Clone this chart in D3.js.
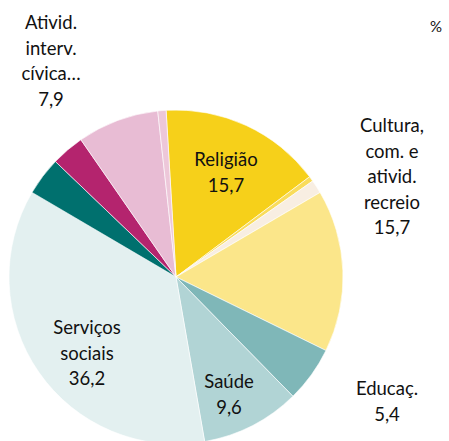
<!DOCTYPE html>
<html>
<head>
<meta charset="utf-8">
<script src="https://cdn.jsdelivr.net/npm/d3@7"></script>
<style>
  html, body { margin: 0; padding: 0; background: #fff; }
  svg text { font-family: Lato, "Noto Sans", sans-serif; font-size: 18.5px; fill: #111; }
</style>
</head>
<body>
<div id="chart"></div>
<script>
// Slices, clockwise from just left of 12 o'clock
var categories = ["Religião", "Outras a", "Outras b", "Cultura, com. e ativid. recreio", "Educaç.", "Saúde", "Serviços sociais", "Outras c", "Outras d", "Ativid. interv. cívica…", "Outras e"];
var values = [15.7, 0.5, 1.3, 15.7, 5.4, 9.6, 36.2, 3.7, 3.2, 7.9, 0.8];
var colors = ["#f6d01a", "#f9dc5c", "#f8eee2", "#fbe68a", "#7fb7b8", "#b1d4d5", "#e3f0f0", "#00706e", "#b4246e", "#e8bcd4", "#edc7d9"];

// Labels (lines of text) for the slices that carry one
var labelLines = {
  "Religião": ["Religião", "15,7"],
  "Cultura, com. e ativid. recreio": ["Cultura,", "com. e", "ativid.", "recreio", "15,7"],
  "Educaç.": ["Educaç.", "5,4"],
  "Saúde": ["Saúde", "9,6"],
  "Serviços sociais": ["Serviços", "sociais", "36,2"],
  "Ativid. interv. cívica…": ["Ativid.", "interv.", "cívica…", "7,9"]
};
var unitLabel = "%";

var width = 449, height = 441;
var cx = 176, cy = 277, radius = 167;
var lineH = 25.5;

// label anchor (centre x, first baseline y)
var labelPlace = {
  "Religião": [226, 166],
  "Cultura, com. e ativid. recreio": [392, 132],
  "Educaç.": [387, 395],
  "Saúde": [229, 388],
  "Serviços sociais": [87, 334],
  "Ativid. interv. cívica…": [51, 29]
};

var svg = d3.select("#chart").append("svg")
  .attr("width", width)
  .attr("height", height);

var startA = -3.4 * Math.PI / 180;
var pie = d3.pie().sort(null).value(function(d) { return d; })
  .startAngle(startA).endAngle(startA + 2 * Math.PI);
var arc = d3.arc().innerRadius(0).outerRadius(radius);

var g = svg.append("g").attr("transform", "translate(" + cx + "," + cy + ")");

g.selectAll("path")
  .data(pie(values))
  .enter()
  .append("path")
  .attr("d", arc)
  .style("fill", function(d, i) { return colors[i]; })
  .style("stroke", "#fff")
  .style("stroke-width", 0.6);

// Labels
categories.forEach(function(c) {
  if (!(c in labelLines)) return;
  var p = labelPlace[c];
  var t = svg.append("text")
    .attr("text-anchor", "middle");
  labelLines[c].forEach(function(line, k) {
    t.append("tspan")
      .attr("x", p[0])
      .attr("y", p[1] + k * lineH)
      .text(line);
  });
});

svg.append("text")
  .attr("x", 436)
  .attr("y", 32)
  .attr("text-anchor", "middle")
  .style("font-size", "15px")
  .text(unitLabel);
</script>
</body>
</html>
